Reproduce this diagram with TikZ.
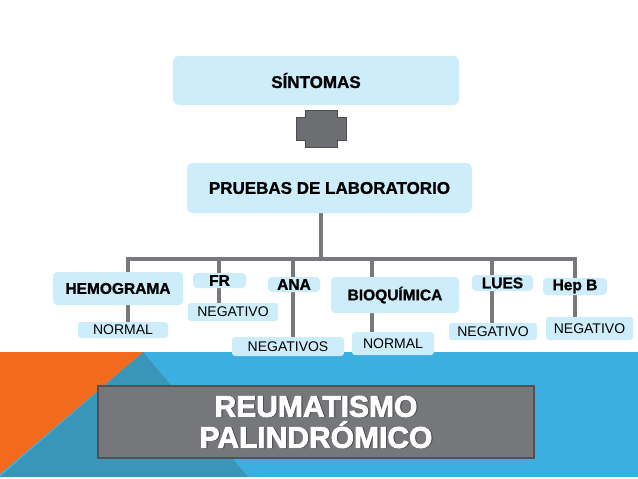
\documentclass[tikz,border=0pt]{standalone}
\usepackage{fontspec}
\setmainfont{Liberation Sans}
\newfontfamily\heavyfont[FakeBold=2.5]{Liberation Sans Bold}
\newfontfamily\semiheavyfont[FakeBold=1.2]{Liberation Sans Bold}
\usetikzlibrary{backgrounds}
\definecolor{boxblue}{RGB}{205,237,250}
\definecolor{linegray}{RGB}{120,121,125}
\definecolor{bandblue}{RGB}{59,176,224}
\definecolor{bandteal}{RGB}{57,150,184}
\definecolor{bandorange}{RGB}{242,107,29}
\definecolor{titlegray}{RGB}{118,119,122}
\definecolor{titleborder}{RGB}{80,81,84}
\definecolor{plusgray}{RGB}{109,110,113}
\definecolor{plusdark}{RGB}{77,77,79}
\begin{document}
\begin{tikzpicture}[x=1pt,y=-1pt,
  bigbox/.style={fill=boxblue, rounded corners=6pt, inner sep=0pt, font=\fontsize{17}{20}\selectfont\semiheavyfont},
  labbox/.style={fill=boxblue, rounded corners=4pt, inner sep=0pt, font=\fontsize{15.5}{18}\selectfont\semiheavyfont},
  resbox/.style={fill=boxblue, rounded corners=3pt, inner sep=0pt, font=\fontsize{14}{16}\selectfont},
  conn/.style={draw=linegray, line width=4.5pt, line join=miter},
  titlebox/.style={draw=titleborder, line width=2pt, fill=titlegray, minimum width=436pt, minimum height=72pt},
  titletext/.style={align=center, font=\fontsize{30}{31}\selectfont\heavyfont}]
\useasboundingbox (0,0) rectangle (638,479);

% top boxes
\node[bigbox, minimum width=286pt, minimum height=49pt] (sint) at (316,80.5) {SÍNTOMAS};
\node[bigbox, minimum width=285pt, minimum height=50pt] (pru) at (329.5,188) {PRUEBAS DE LABORATORIO};

% plus sign
\draw[fill=plusgray, draw=plusdark, line width=0.8pt] (296,117) -- (305,117) -- (305,110) -- (337,110) -- (337,117) -- (346,117) -- (346,140) -- (337,140) -- (337,147) -- (305,147) -- (305,140) -- (296,140) -- cycle;

% level boxes
\node[labbox, minimum width=130pt, minimum height=33pt] (hemo) at (118,288.5) {HEMOGRAMA};
\node[labbox, minimum width=53pt, minimum height=15pt] (fr) at (219.5,280.5) {FR};
\node[labbox, minimum width=52pt, minimum height=15pt] (ana) at (294,284.5) {ANA};
\node[labbox, minimum width=128pt, minimum height=36pt] (bio) at (395,295) {BIOQUÍMICA};
\node[labbox, minimum width=61pt, minimum height=16pt] (lues) at (502.5,283) {LUES};
\node[labbox, minimum width=64pt, minimum height=17pt] (hepb) at (575,286.5) {Hep B};

% result boxes
\node[resbox, minimum width=90pt, minimum height=16pt] (norm1) at (123,330) {NORMAL};
\node[resbox, minimum width=90pt, minimum height=18pt] (negfr) at (233,312) {NEGATIVO};
\node[resbox, minimum width=112pt, minimum height=19pt] (negs) at (288,346.5) {NEGATIVOS};
\node[resbox, minimum width=82pt, minimum height=23pt] (norm2) at (393,343.5) {NORMAL};
\node[resbox, minimum width=88pt, minimum height=17pt] (neglues) at (493,331.5) {NEGATIVO};
\node[resbox, minimum width=87pt, minimum height=23pt] (neghep) at (589.5,328.5) {NEGATIVO};

% title
\node[titlebox] (title) at (316,422) {};
\node[titletext, text=titleborder] (titleshadow) at (317.2,422.2) {REUMATISMO\\PALINDRÓMICO};
\node[titletext, text=white] (titletxt) at (title.center) {REUMATISMO\\PALINDRÓMICO};

% junctions
\coordinate (jP) at (321,259);
\coordinate (jL) at (128,259);
\coordinate (jR) at (575,259);
\coordinate (jFR) at (219,259);
\coordinate (jANA) at (293,259);
\coordinate (jBIO) at (372,259);
\coordinate (jLUES) at (492,259);

\begin{scope}[on background layer]
  \fill[white] (0,0) rectangle (638,479);
  \fill[bandblue] (0,352) rectangle (638,477);
  \fill[bandteal] (143,352) -- (248,477) -- (0,477) -- cycle;
  \fill[bandorange] (0,352) -- (143,352) -- (0,474) -- cycle;
  \draw[conn] (jL |- norm1.north) -- (jL) -- (jR) -- (jR |- neghep.north);
  \draw[conn] (jP) -- (jP |- pru.south);
  \draw[conn] (jFR) -- (jFR |- negfr.north);
  \draw[conn] (jANA) -- (jANA |- negs.north);
  \draw[conn] (jBIO) -- (jBIO |- norm2.north);
  \draw[conn] (jLUES) -- (jLUES |- neglues.north);
\end{scope}
\end{tikzpicture}
\end{document}
